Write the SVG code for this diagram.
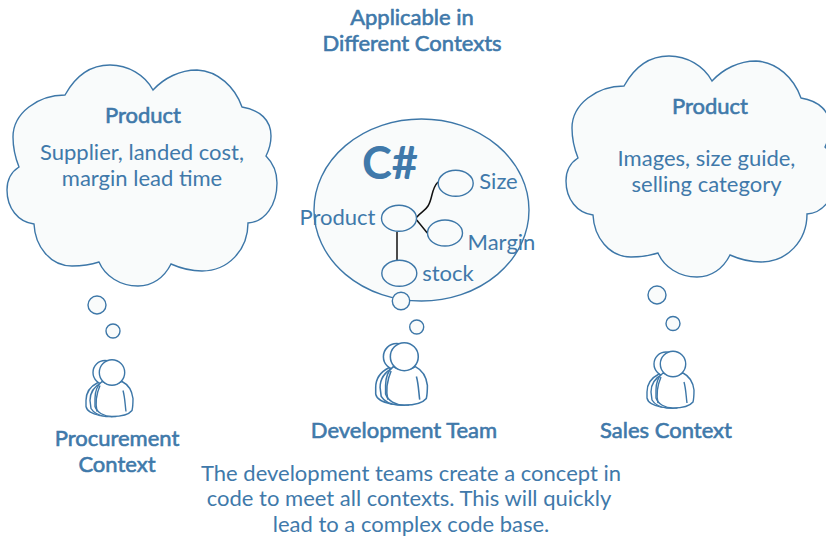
<svg xmlns="http://www.w3.org/2000/svg" width="826" height="536" viewBox="0 0 826 536">
<style>
text{font-family:Lato,"Open Sans",sans-serif;fill:#4079aa;font-size:22px;text-anchor:middle}
.b{font-size:22px;stroke:#4079aa;stroke-width:.6}
.s{fill:#f9fbfb;stroke:#3d77a8;stroke-width:1.4}
.p{fill:#fff;stroke:#3d77a8;stroke-width:1.4;stroke-linejoin:round}
.n{fill:none;stroke:#3d77a8;stroke-width:1.4}
.k{fill:none;stroke:#111;stroke-width:1.5}
</style>
<defs>
<path id="cloud" d="M65,95 C76,75 92,65 110,65 C128,65 145,75 153,90 C164,78 180,70 197,70 C218,71 235,87 242,107 C260,110 271,120 271,136 C271,144 269,150 266,156 C273,163 277,172 277,183 C277,205 265,222 248,223 C248,250 228,271 202,271 C190,271 180,268 171,264 C164,278 152,286 138,286 C120,286 105,276 99,262 C90,265 81,266 72,266 C50,266 35,246 34,224 C18,222 7,208 7,190 C7,180 11,172 19,167 C15,157 13,147 13,137 C13,113 38,95 65,95Z"/>
<g id="person">
<circle class="p" cx="-7" cy="0" r="12"/>
<path class="p" d="M-14,10 C-22,14 -26,20 -26,28 L-26,34 C-25,39 -20,41 -12,43 L0,44 L0,20Z"/>
<path class="p" d="M-10,10 C-18,14 -22,20 -22,28 L-21,36 C-18,41 -14,43 -6,44 L4,44 L4,20Z"/>
<path class="p" d="M-10,9 C-15,13 -17,20 -17,26 L-17,34 C-15,40 -8,44 0,44 C8,44 16,43 20,38 C21,34 21,30 21,26 C20,18 16,12 10,9 C4,13 -4,13 -10,9Z"/>
<path class="n" d="M-12,13 C-15,20 -17,30 -15,39 M11,18 C13,25 13,32 14,39"/>
<circle class="p" cx="0" cy="0" r="12.700"/>
</g>
</defs>
<g id="title"><text class="b" x="412" y="25">Applicable in</text><text class="b" x="412" y="51">Different Contexts</text></g>
<g id="procurement-cloud"><use href="#cloud" class="s"/>
<text class="b" x="143" y="123">Product</text><text x="142" y="160">Supplier, landed cost,</text><text x="142" y="186">margin lead time</text>
<circle class="s" cx="97" cy="305" r="9"/><circle class="s" cx="113" cy="331" r="7"/></g>
<g id="sales-cloud"><use href="#cloud" class="s" x="559" y="-9"/>
<text class="b" x="710" y="114">Product</text><text x="706.500" y="166">Images, size guide,</text><text x="706.500" y="192">selling category</text>
<circle class="s" cx="657" cy="295" r="9"/><circle class="s" cx="673" cy="323.500" r="7"/></g>
<g id="dev-cloud"><ellipse class="s" cx="421.500" cy="210" rx="107.500" ry="91"/>
<text x="390" y="179" style="font-size:45px;font-weight:700">C#</text>
<circle class="s" cx="401" cy="301" r="8.700"/><circle class="s" cx="416.700" cy="327" r="7"/></g>
<g id="connectors">
<path class="k" d="M397,231.700V260"/>
<path class="k" d="M416.700,217.300C421,212 425,211 428,206C433,198 431,189 438,182"/>
<path class="k" d="M416.700,220L427.300,233"/>
</g>
<g id="node-product"><ellipse class="n" cx="399" cy="218.300" rx="17.500" ry="13"/><text x="337.500" y="225">Product</text></g>
<g id="node-size"><ellipse class="n" cx="455.700" cy="183.300" rx="17.500" ry="13"/><text x="498.500" y="189">Size</text></g>
<g id="node-margin"><ellipse class="n" cx="445" cy="233" rx="17.500" ry="13"/><text x="501.500" y="250">Margin</text></g>
<g id="node-stock"><ellipse class="n" cx="399.300" cy="273.300" rx="17.500" ry="13"/><text x="448" y="281">stock</text></g>
<g id="person-procurement"><use href="#person" transform="translate(112,372.500)"/><text class="b" x="117" y="446">Procurement</text><text class="b" x="117" y="472">Context</text></g>
<g id="person-development"><use href="#person" transform="translate(404.300,356.700) scale(1.100)"/><text class="b" x="404" y="438">Development Team</text></g>
<g id="person-sales"><use href="#person" transform="translate(673,364)"/><text class="b" x="666" y="438">Sales Context</text></g>
<g id="caption"><text x="411" y="481">The development teams create a concept in</text><text x="409" y="506">code to meet all contexts. This will quickly</text><text x="411" y="532">lead to a complex code base.</text></g>
</svg>
